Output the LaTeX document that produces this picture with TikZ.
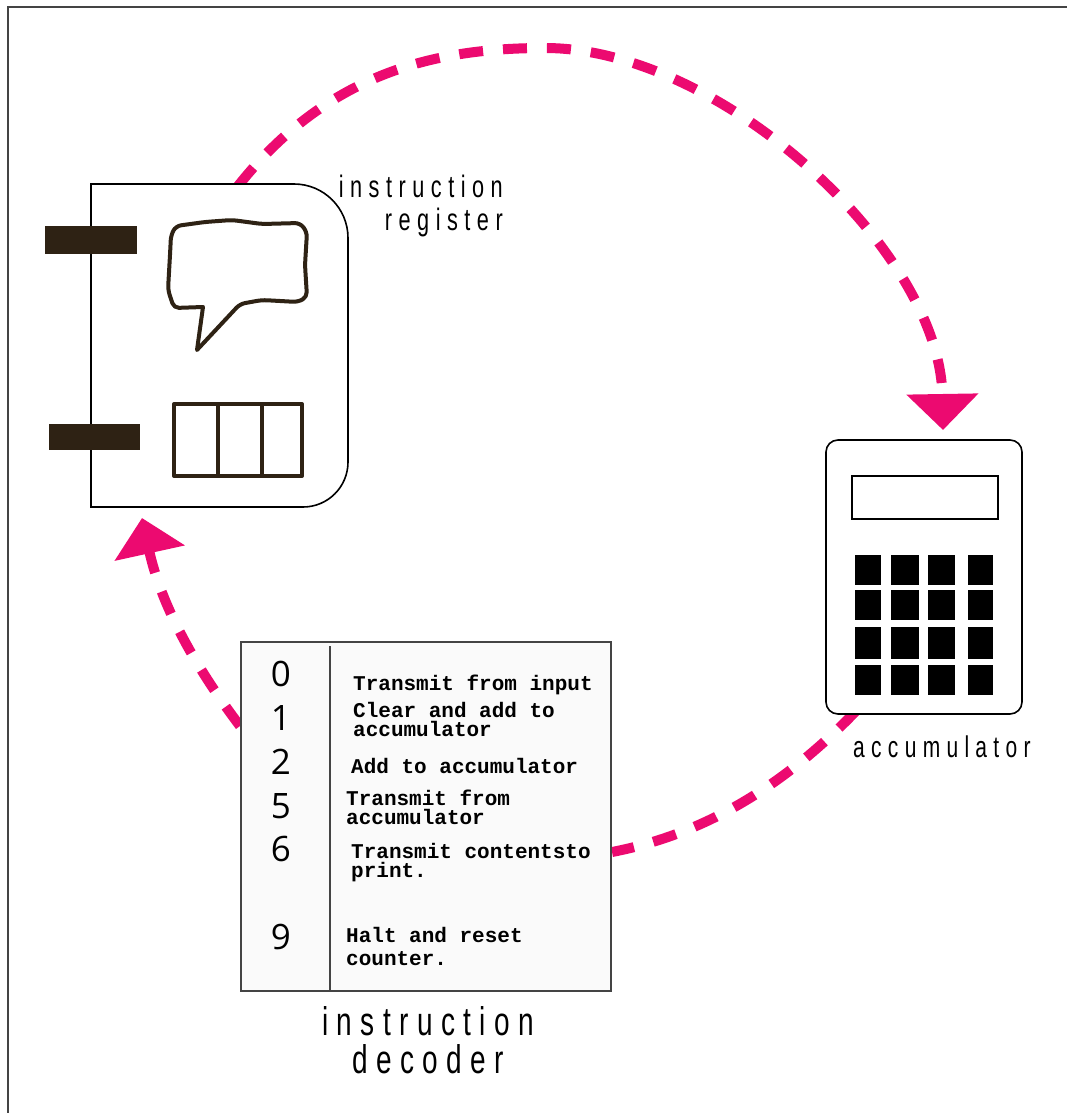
\documentclass[tikz,border=0pt]{standalone}
\usepackage{fontspec}
\setmainfont{Liberation Sans}
\newfontfamily\handfont[FakeStretch=0.7,LetterSpace=21]{Liberation Sans}
\newfontfamily\typefont{Liberation Mono}
\newfontfamily\digitfont{Open Sans}
\usetikzlibrary{arrows.meta}
\definecolor{signal}{HTML}{EC0A70}
\definecolor{ink}{HTML}{2E2214}
\definecolor{paper}{HTML}{FAFAFA}
\definecolor{rim}{HTML}{444444}

\begin{document}
\begin{tikzpicture}[x=1pt,y=-1pt,
  >={Triangle[width=70pt,length=36pt]},
  transfer/.style={draw=signal,line width=10pt,dash pattern=on 24pt off 20pt},
  unit/.style={draw=black,fill=white,line width=1.6pt},
  sketch/.style={draw=ink,line width=4pt,line join=round},
  entry/.style={font=\typefont\bfseries\fontsize{21}{19}\selectfont,
    align=left,inner sep=0pt,anchor=base west},
  digit/.style={font=\digitfont\fontsize{35}{35}\selectfont,inner sep=0pt,anchor=base},
  tag/.style={font=\handfont\fontsize{31}{33}\selectfont,inner sep=0pt},
  bigtag/.style={font=\handfont\fontsize{40}{36}\selectfont,inner sep=0pt,anchor=base}]

\useasboundingbox (0,0) rectangle (1067,1113);

%% frame, top and left edge only
\draw[rim,line width=2.5pt] (1067,7) -- (8,7) -- (8,1113);

%% end points of the three transfers
\coordinate (reg out) at (238,186);
\coordinate (acc in) at (943,430);
\coordinate (acc out) at (856,711);
\coordinate (dec in) at (612,852);
\coordinate (dec out) at (240,726);
\coordinate (reg in) at (142,518);

%% transfers go first, the units cover their ends
\draw[transfer,->] (reg out) .. controls (330,70) and (440,48) .. (545,48)
  .. controls (720,48) and (940,250) .. (acc in);
\draw[transfer] (acc out) .. controls (780,790) and (700,835) .. (dec in);
\draw[transfer,->] (dec out) .. controls (190,660) and (160,600) .. (reg in);

%% instruction register
\draw[unit] (91,184) -- (294,184) arc[start angle=90,end angle=0,radius=54pt]
  -- (348,462) arc[start angle=0,end angle=-90,radius=45pt] -- (91,507) -- cycle;
\fill[ink] (45,226) rectangle (137,254);
\fill[ink] (49,424) rectangle (140,450);
\draw[sketch,rounded corners=5pt] (176,226) -- (205,222) -- (232,220) -- (262,224)
  -- (300,223) -- (307,232) -- (305,265) -- (307,297) -- (298,302) -- (262,300)
  -- (240,304) [sharp corners] -- (197,350) -- (203,307) [rounded corners=5pt]
  -- (174,308) -- (168,290) -- (170,255) -- (171,235) -- cycle;
\draw[sketch] (174,404) rectangle (302,476);
\draw[sketch] (218,404) -- (218,476);
\draw[sketch] (262,404) -- (262,476);
\node[tag,align=right,anchor=base east] (reg label) at (503,230) {instruction\\register};

%% accumulator
\node[unit,rounded corners=12pt,minimum width=196pt,minimum height=274pt] (calc) at (924,577) {};
\draw[line width=2pt] (852,476) rectangle (998,519);
\foreach \kx/\kw in {855/26,891/28,928/27,968/25}
  \foreach \ky/\kh in {555/30,590/30,627/32,665/30}
    \fill (\kx,\ky) rectangle ++(\kw,\kh);
\node[tag,font=\handfont\fontsize{30}{32}\selectfont,anchor=base west] (acc label) at (853,757) {accumulator};

%% instruction decoder
\node[draw=rim,fill=paper,line width=2pt,minimum width=370pt,minimum height=349pt] (dec) at (426,816.5) {};
\draw[rim,line width=2pt] (330,646) -- (330,646 |- dec.south);
\foreach \d/\yb in {0/686,1/730,2/774,5/818,6/861,9/949}
  \node[digit] (op\d) at (281,\yb) {\d};
\node[entry] (txt0) at (353,690) {Transmit from input};
\node[entry] (txt1) at (353,736) {Clear and add to\\accumulator};
\node[entry] (txt2) at (351,773) {Add to accumulator};
\node[entry] (txt5) at (346,824) {Transmit from\\accumulator};
\node[entry] (txt6) at (351,877) {Transmit contentsto\\print.};
\node[entry] (txt9) at (346,965) {Halt and reset\\[4pt]counter.};
\node[bigtag] (dec label) at (428,1035) {instruction};
\node[bigtag] (dec label2) at (428,1073) {decoder};

\end{tikzpicture}
\end{document}
